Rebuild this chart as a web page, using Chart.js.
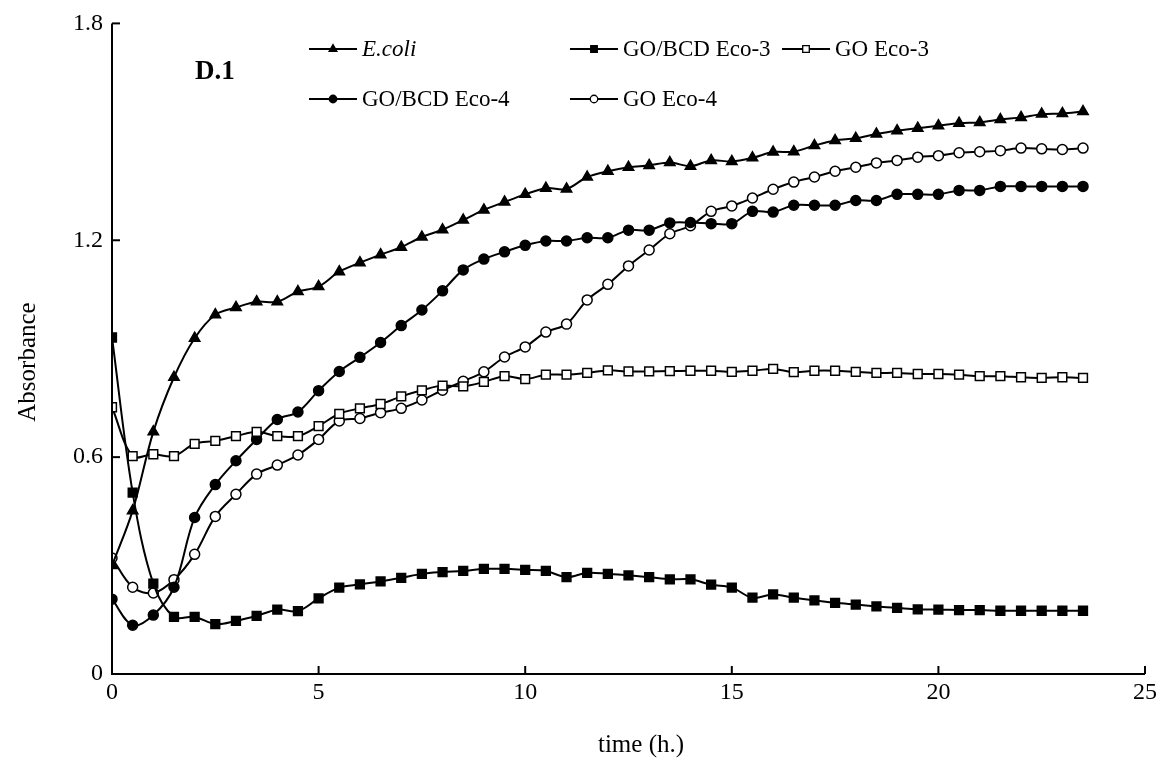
<!DOCTYPE html>
<html>
<head>
<meta charset="utf-8">
<script src="https://cdn.jsdelivr.net/npm/chart.js@4.4.0/dist/chart.umd.min.js"></script>
<style>
  html,body{margin:0;padding:0;background:#fff;}
  #wrap{width:1169px;height:762px;position:relative;}
</style>
</head>
<body>
<div id="wrap"><canvas id="c" width="1169" height="762"></canvas></div>
<script>
const times = [0,0.5,1,1.5,2,2.5,3,3.5,4,4.5,5,5.5,6,6.5,7,7.5,8,8.5,9,9.5,10,10.5,11,11.5,12,12.5,13,13.5,14,14.5,15,15.5,16,16.5,17,17.5,18,18.5,19,19.5,20,20.5,21,21.5,22,22.5,23,23.5];
const seriesNames = ['E.coli','GO/BCD Eco-3','GO Eco-3','GO/BCD Eco-4','GO Eco-4'];
const ecoli = [0.300,0.452,0.670,0.821,0.929,0.994,1.014,1.030,1.030,1.058,1.072,1.113,1.138,1.160,1.181,1.209,1.229,1.256,1.284,1.306,1.327,1.344,1.342,1.375,1.391,1.402,1.407,1.415,1.405,1.421,1.418,1.428,1.444,1.445,1.462,1.476,1.482,1.494,1.503,1.510,1.517,1.524,1.526,1.534,1.540,1.549,1.551,1.556];
const gobcdEco3 = [0.931,0.502,0.250,0.158,0.158,0.138,0.147,0.161,0.178,0.174,0.209,0.239,0.248,0.256,0.266,0.277,0.282,0.285,0.291,0.291,0.288,0.285,0.268,0.280,0.277,0.273,0.268,0.262,0.262,0.247,0.239,0.211,0.220,0.211,0.204,0.197,0.192,0.187,0.183,0.179,0.178,0.177,0.177,0.175,0.175,0.175,0.175,0.175];
const goEco3 = [0.738,0.603,0.608,0.603,0.637,0.645,0.658,0.670,0.658,0.658,0.686,0.720,0.735,0.747,0.768,0.785,0.798,0.796,0.808,0.824,0.816,0.828,0.828,0.833,0.840,0.837,0.837,0.838,0.839,0.839,0.836,0.839,0.844,0.835,0.839,0.839,0.836,0.833,0.833,0.830,0.830,0.828,0.824,0.824,0.821,0.819,0.821,0.819];
const gobcdEco4 = [0.207,0.135,0.163,0.240,0.433,0.524,0.590,0.649,0.704,0.725,0.784,0.837,0.876,0.917,0.964,1.007,1.060,1.118,1.148,1.168,1.186,1.198,1.198,1.207,1.207,1.228,1.228,1.248,1.249,1.246,1.246,1.280,1.278,1.297,1.297,1.297,1.310,1.310,1.327,1.327,1.327,1.338,1.338,1.349,1.349,1.349,1.349,1.349];
const goEco4 = [0.321,0.240,0.224,0.261,0.331,0.436,0.497,0.553,0.578,0.606,0.649,0.700,0.707,0.723,0.735,0.758,0.785,0.810,0.836,0.877,0.905,0.946,0.968,1.035,1.078,1.129,1.173,1.218,1.240,1.280,1.295,1.317,1.341,1.361,1.375,1.391,1.402,1.414,1.421,1.430,1.434,1.442,1.445,1.448,1.455,1.453,1.451,1.455];
const xTicks = [0,5,10,15,20,25];
const yTickLabels = ['0','0.6','1.2','1.8'];
const panelLabel = 'D.1';
const xTitle = 'time (h.)';
const yTitle = 'Absorbance';

const toPts = arr => arr.map((v,i)=>({x:times[i], y:v}));
const styles = [
  {pointStyle:'triangle', radius:6, fill:'#000'},
  {pointStyle:'rect', radius:6.2, fill:'#000'},
  {pointStyle:'rect', radius:6.2, fill:'#fff'},
  {pointStyle:'circle', radius:5, fill:'#000'},
  {pointStyle:'circle', radius:5, fill:'#fff'}
];
const values = [ecoli, gobcdEco3, goEco3, gobcdEco4, goEco4];
const datasets = values.map((arr,k)=>({
  label: seriesNames[k],
  data: toPts(arr),
  borderColor:'#000',
  borderWidth:2,
  pointStyle: styles[k].pointStyle,
  pointRadius: styles[k].radius,
  pointBackgroundColor: styles[k].fill,
  pointBorderColor:'#000',
  pointBorderWidth:1.5,
  tension:0.35,
  fill:false
}));

const serif = '"Liberation Serif","Times New Roman",serif';

const innerTicks = {
  id:'innerTicks',
  afterDraw(chart){
    const ctx = chart.ctx, xs = chart.scales.x, ys = chart.scales.y, a = chart.chartArea;
    ctx.save();
    ctx.strokeStyle='#000'; ctx.lineWidth=2;
    ctx.beginPath();
    ctx.moveTo(a.left, a.top); ctx.lineTo(a.left, a.bottom); ctx.lineTo(a.right, a.bottom);
    ctx.stroke();
    xs.ticks.forEach(t=>{
      const px = xs.getPixelForValue(t.value);
      ctx.beginPath(); ctx.moveTo(px, a.bottom); ctx.lineTo(px, a.bottom-8); ctx.stroke();
    });
    ys.ticks.forEach(t=>{
      const py = ys.getPixelForValue(t.value);
      ctx.beginPath(); ctx.moveTo(a.left, py); ctx.lineTo(a.left+8, py); ctx.stroke();
    });
    ctx.fillStyle='#000';
    ctx.font = '25px ' + serif;
    ctx.textAlign='center'; ctx.textBaseline='middle';
    ctx.fillText(xTitle, 641, 745);
    ctx.translate(28, 362); ctx.rotate(-Math.PI/2);
    ctx.fillText(yTitle, 0, 0);
    ctx.restore();
  }
};

const customLegend = {
  id:'customLegend',
  afterDraw(chart){
    const ctx = chart.ctx;
    const slots = [
      {x:309, y:49}, {x:570, y:49}, {x:782, y:49},
      {x:309, y:99}, {x:570, y:99}
    ];
    ctx.save();
    chart.data.datasets.forEach((ds,k)=>{
      const s = slots[k];
      const len = 48;
      ctx.strokeStyle='#000'; ctx.lineWidth=2;
      ctx.beginPath(); ctx.moveTo(s.x, s.y); ctx.lineTo(s.x+len, s.y); ctx.stroke();
      ctx.fillStyle = ds.pointBackgroundColor; ctx.strokeStyle='#000';
      ctx.beginPath();
      const r = ds.pointRadius*0.75;
      const cx = s.x+len/2;
      if (ds.pointStyle==='circle'){ ctx.arc(cx, s.y, r, 0, Math.PI*2); }
      else if (ds.pointStyle==='rect'){ const h=r*Math.SQRT1_2; ctx.rect(cx-h, s.y-h, 2*h, 2*h); }
      else { ctx.moveTo(cx, s.y-r); ctx.lineTo(cx+r*0.866, s.y+r*0.5); ctx.lineTo(cx-r*0.866, s.y+r*0.5); ctx.closePath(); }
      ctx.fill(); ctx.lineWidth=1.3; ctx.stroke();
      ctx.fillStyle='#000';
      ctx.font = (k===0 ? 'italic ' : '') + '23px ' + serif;
      ctx.textBaseline='middle'; ctx.textAlign='left';
      ctx.fillText(ds.label, s.x+len+5, s.y+1);
    });
    ctx.font = 'bold 27px ' + serif;
    ctx.textBaseline='middle'; ctx.textAlign='left';
    ctx.fillText(panelLabel, 195, 72);
    ctx.restore();
  }
};

new Chart(document.getElementById('c'), {
  type:'line',
  data:{datasets},
  options:{
    responsive:false,
    animation:false,
    layout:{padding:{top:21, right:24, left:0, bottom:0}},
    plugins:{legend:{display:false}, tooltip:{enabled:false}},
    scales:{
      x:{
        type:'linear', min:0, max:25,
        afterBuildTicks(s){ s.ticks = xTicks.map(v=>({value:v})); },
        afterFit(s){ s.height = 88; },
        grid:{display:false, drawTicks:false},
        border:{display:false},
        ticks:{color:'#000', font:{family:serif, size:24}, padding:4},
        title:{display:false}
      },
      y:{
        type:'linear', min:0, max:1.8,
        afterBuildTicks(s){ s.ticks = yTickLabels.map(v=>({value:parseFloat(v)})); },
        afterFit(s){ s.width = 112; },
        grid:{display:false, drawTicks:false},
        border:{display:false},
        ticks:{color:'#000', font:{family:serif, size:24}, padding:9,
          callback:(v,i)=>yTickLabels[i]},
        title:{display:false}
      }
    }
  },
  plugins:[innerTicks, customLegend]
});
</script>
</body>
</html>
